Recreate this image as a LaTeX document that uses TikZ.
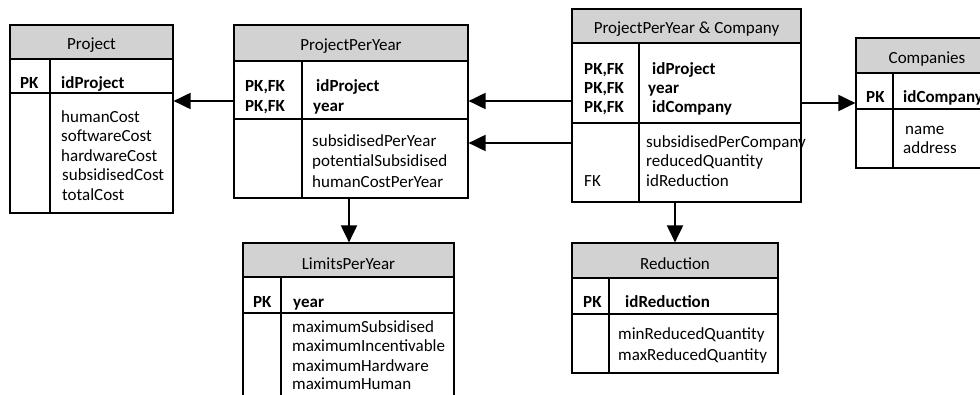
\documentclass[tikz,border=0pt]{standalone}
\usepackage{fontspec}
\setmainfont{Carlito}
\usetikzlibrary{arrows.meta,fit}
\tikzset{
  hdr/.style={fill={rgb,255:red,210;green,210;blue,210}},
  tbox/.style={draw, line width=1.2pt, inner sep=0pt},
  sep/.style={line width=1.2pt},
  ttl/.style={font=\fontsize{17}{20}\selectfont, inner sep=0pt, yshift=-2.5pt},
  fld/.style={font=\fontsize{17}{20}\selectfont, inner sep=0pt, anchor=west, text height=0.7em, text depth=0.2em, yshift=-2.5pt},
  key/.style={fld, font=\fontsize{17}{20}\selectfont\bfseries},
  arr/.style={line width=2pt, -{Triangle[length=17pt,width=16pt]}}
}
% name, L, T, R, headerbottom, divider, bottom, coldiv, title
\newcommand{\ertable}[9]{%
  \fill[hdr] (#2,#3) rectangle (#4,#5);
  \node[tbox, fit={(#2,#3) (#4,#7)}] (#1) {};
  \draw[sep] (#2,#5) -- (#4,#5);
  \draw[sep] (#2,#6) -- (#4,#6);
  \draw[sep] (#8,#5) -- (#8,#7);
  \node[ttl] (#1-title) at ({(#2+#4)/2},{(#3+#5)/2+1}) {#9};
}
\begin{document}
\begin{tikzpicture}[x=1pt,y=-1pt]
\useasboundingbox (0,0) rectangle (980,395);
\clip (0,0) rectangle (980,395);

% Project
\ertable{project}{10}{25}{173}{59}{93}{213}{50}{Project}
\node[key] (p-k1) at (20,84) {PK};
\node[key] (p-f1) at (61,84) {idProject};
\node[fld] (p-a1) at (61,118) {humanCost};
\node[fld] (p-a2) at (61,137) {softwareCost};
\node[fld] (p-a3) at (61,157) {hardwareCost};
\node[fld] (p-a4) at (62,176) {subsidisedCost};
\node[fld] (p-a5) at (62,196) {totalCost};

% ProjectPerYear
\ertable{ppy}{234}{25}{468}{61}{119}{198}{302}{ProjectPerYear}
\node[key] (y-k1) at (245,87) {PK,FK};
\node[key] (y-k2) at (245,107) {PK,FK};
\node[key] (y-f1) at (316,87) {idProject};
\node[key] (y-f2) at (313,107) {year};
\node[fld] (y-a1) at (312,142) {subsidisedPerYear};
\node[fld] (y-a2) at (312,162) {potentialSubsidised};
\node[fld] (y-a3) at (312,183) {humanCostPerYear};

% ProjectPerYear & Company
\ertable{ppyc}{572}{9}{801}{43}{123}{202}{639}{ProjectPerYear \& Company}
\node[key] (c-k1) at (584,70) {PK,FK};
\node[key] (c-k2) at (584,89) {PK,FK};
\node[key] (c-k3) at (584,108) {PK,FK};
\node[key] (c-f1) at (652,70) {idProject};
\node[key] (c-f2) at (648,89) {year};
\node[key] (c-f3) at (652,108) {idCompany};
\node[fld] (c-a1) at (646,143) {subsidisedPerCompany};
\node[fld] (c-a2) at (646,162) {reducedQuantity};
\node[fld] (c-fk) at (584,182) {FK};
\node[fld] (c-a3) at (646,182) {idReduction};

% Companies
\ertable{comp}{856}{38}{998}{73}{109}{168}{893}{Companies}
\node[key] (m-k1) at (866,98) {PK};
\node[key] (m-f1) at (903,98) {idCompany};
\node[fld] (m-a1) at (905,130) {name};
\node[fld] (m-a2) at (903,149) {address};

% LimitsPerYear
\ertable{lim}{243}{243}{454}{277}{313}{402}{281}{LimitsPerYear}
\node[key] (l-k1) at (253,303) {PK};
\node[key] (l-f1) at (293,303) {year};
\node[fld] (l-a1) at (292,328) {maximumSubsidised};
\node[fld] (l-a2) at (292,347) {maximumIncentivable};
\node[fld] (l-a3) at (292,366) {maximumHardware};
\node[fld] (l-a4) at (292,384) {maximumHuman};

% Reduction
\ertable{red}{572}{243}{778}{278}{314}{373}{609}{Reduction}
\node[key] (r-k1) at (583,303) {PK};
\node[key] (r-f1) at (625,303) {idReduction};
\node[fld] (r-a1) at (618,334) {minReducedQuantity};
\node[fld] (r-a2) at (618,355) {maxReducedQuantity};

% connector levels
\coordinate (h101) at (0,101);
\coordinate (h143) at (0,143);
\coordinate (h103) at (0,103);
\coordinate (v349) at (349,0);
\coordinate (v675) at (675,0);

\draw[arr] (ppy.west |- h101) -- (project.east |- h101);
\draw[arr] (ppyc.west |- h101) -- (ppy.east |- h101);
\draw[arr] (ppyc.west |- h143) -- (ppy.east |- h143);
\draw[arr] (ppyc.east |- h103) -- (comp.west |- h103);
\draw[arr] (ppy.south -| v349) -- (lim.north -| v349);
\draw[arr] (ppyc.south -| v675) -- (red.north -| v675);
\end{tikzpicture}
\end{document}
